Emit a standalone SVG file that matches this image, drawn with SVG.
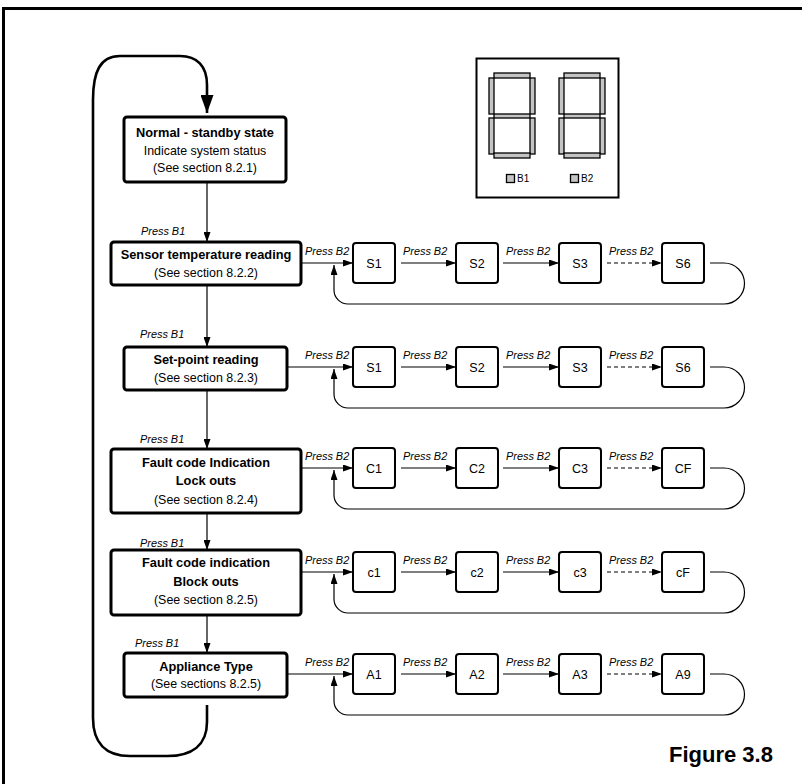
<svg xmlns="http://www.w3.org/2000/svg" width="802" height="784" viewBox="0 0 802 784">
<style>
.bg{fill:#fff}
.main{fill:#fff;stroke:#000;stroke-width:3}
.sbox{fill:#fff;stroke:#000;stroke-width:2}
.ln{fill:none;stroke:#000;stroke-width:1.2}
.dash{stroke-dasharray:4,3}
.big{fill:none;stroke:#000;stroke-width:2.6}
.seg{fill:#c4c4c4;stroke:#000;stroke-width:1.3}
.b{font-family:"Liberation Sans",Arial,sans-serif;font-weight:bold;font-size:12.8px;text-anchor:middle}
.r{font-family:"Liberation Sans",Arial,sans-serif;font-size:12.4px;text-anchor:middle}
.s{font-family:"Liberation Sans",Arial,sans-serif;font-size:12.5px;text-anchor:middle}
.p{font-family:"Liberation Sans",Arial,sans-serif;font-style:italic;font-size:10.9px}
.led{font-family:"Liberation Sans",Arial,sans-serif;font-size:10px}
.fig{font-family:"Liberation Sans",Arial,sans-serif;font-weight:bold;font-size:22px}
</style>
<defs>
<marker id="a" markerUnits="userSpaceOnUse" viewBox="0 0 10 7" refX="10" refY="3.5" markerWidth="10" markerHeight="7" orient="auto"><path d="M0,0L10,3.5L0,7z" fill="#000"/></marker>
<marker id="A" markerUnits="userSpaceOnUse" viewBox="0 0 18 13" refX="18" refY="6.5" markerWidth="18" markerHeight="13" orient="auto"><path d="M0,0L18,6.5L0,13z" fill="#000"/></marker>
</defs>
<rect class="bg" x="0" y="0" width="802" height="784"/>
<path d="M3.5,784V8.5H802" fill="none" stroke="#000" stroke-width="3"/>

<g id="display">
<rect x="476.5" y="58.5" width="142" height="139" fill="#fff" stroke="#000" stroke-width="2"/>
<g id="digit1">
<rect class="seg" x="494" y="73" width="36" height="5"/>
<rect class="seg" x="489" y="78" width="5" height="36"/>
<rect class="seg" x="530" y="78" width="5" height="36"/>
<rect class="seg" x="494" y="114" width="36" height="4"/>
<rect class="seg" x="489" y="118" width="5" height="36"/>
<rect class="seg" x="530" y="118" width="5" height="36"/>
<rect class="seg" x="494" y="153" width="36" height="5"/>
</g>
<g id="digit2">
<rect class="seg" x="564" y="73" width="36" height="5"/>
<rect class="seg" x="559" y="78" width="5" height="36"/>
<rect class="seg" x="600" y="78" width="5" height="36"/>
<rect class="seg" x="564" y="114" width="36" height="4"/>
<rect class="seg" x="559" y="118" width="5" height="36"/>
<rect class="seg" x="600" y="118" width="5" height="36"/>
<rect class="seg" x="564" y="153" width="36" height="5"/>
</g>
<rect class="seg" x="506.5" y="174.5" width="8" height="8"/>
<text class="led" x="517" y="182">B1</text>
<rect class="seg" x="570.5" y="174.5" width="8" height="8"/>
<text class="led" x="581" y="182">B2</text>
</g>

<g id="connectors">
<path class="big" d="M207,705V722C207,745 192,756 167,756H130C105,756 93,742 93,718V100C93,72 100,56 120,56H180C197,56 207,66 207,85V113" marker-end="url(#A)"/>
<path class="ln" d="M207,182V242" marker-end="url(#a)"/>
<path class="ln" d="M207,285V347" marker-end="url(#a)"/>
<path class="ln" d="M207,390V449" marker-end="url(#a)"/>
<path class="ln" d="M207,513V550" marker-end="url(#a)"/>
<path class="ln" d="M207,615V653" marker-end="url(#a)"/>
<text class="p" x="141" y="235">Press B1</text>
<text class="p" x="140" y="338">Press B1</text>
<text class="p" x="140" y="443">Press B1</text>
<text class="p" x="140" y="547">Press B1</text>
<text class="p" x="135" y="647">Press B1</text>

<path class="ln" d="M301,263H353" marker-end="url(#a)"/>
<path class="ln" d="M401,263H456" marker-end="url(#a)"/>
<path class="ln" d="M503,263H559" marker-end="url(#a)"/>
<path class="ln dash" d="M607,263H662" marker-end="url(#a)"/>
<path class="ln" d="M710,263H724A20.5,20.5 0 0 1 724,304H348A14,14 0 0 1 334,290V265" marker-end="url(#a)"/>
<text class="p" x="305" y="255">Press B2</text>
<text class="p" x="403" y="255">Press B2</text>
<text class="p" x="506" y="255">Press B2</text>
<text class="p" x="609" y="255">Press B2</text>

<path class="ln" d="M287,367H353" marker-end="url(#a)"/>
<path class="ln" d="M401,367H456" marker-end="url(#a)"/>
<path class="ln" d="M503,367H559" marker-end="url(#a)"/>
<path class="ln dash" d="M607,367H662" marker-end="url(#a)"/>
<path class="ln" d="M710,367H724A20.5,20.5 0 0 1 724,408H348A14,14 0 0 1 334,394V369" marker-end="url(#a)"/>
<text class="p" x="305" y="359">Press B2</text>
<text class="p" x="403" y="359">Press B2</text>
<text class="p" x="506" y="359">Press B2</text>
<text class="p" x="609" y="359">Press B2</text>

<path class="ln" d="M301,468H353" marker-end="url(#a)"/>
<path class="ln" d="M401,468H456" marker-end="url(#a)"/>
<path class="ln" d="M503,468H559" marker-end="url(#a)"/>
<path class="ln dash" d="M607,468H662" marker-end="url(#a)"/>
<path class="ln" d="M710,468H724A20.5,20.5 0 0 1 724,509H348A14,14 0 0 1 334,495V470" marker-end="url(#a)"/>
<text class="p" x="305" y="460">Press B2</text>
<text class="p" x="403" y="460">Press B2</text>
<text class="p" x="506" y="460">Press B2</text>
<text class="p" x="609" y="460">Press B2</text>

<path class="ln" d="M301,572H353" marker-end="url(#a)"/>
<path class="ln" d="M401,572H456" marker-end="url(#a)"/>
<path class="ln" d="M503,572H559" marker-end="url(#a)"/>
<path class="ln dash" d="M607,572H662" marker-end="url(#a)"/>
<path class="ln" d="M710,572H724A20.5,20.5 0 0 1 724,613H348A14,14 0 0 1 334,599V574" marker-end="url(#a)"/>
<text class="p" x="305" y="564">Press B2</text>
<text class="p" x="403" y="564">Press B2</text>
<text class="p" x="506" y="564">Press B2</text>
<text class="p" x="609" y="564">Press B2</text>

<path class="ln" d="M287,674H353" marker-end="url(#a)"/>
<path class="ln" d="M401,674H456" marker-end="url(#a)"/>
<path class="ln" d="M503,674H559" marker-end="url(#a)"/>
<path class="ln dash" d="M607,674H662" marker-end="url(#a)"/>
<path class="ln" d="M710,674H724A20.5,20.5 0 0 1 724,715H348A14,14 0 0 1 334,701V676" marker-end="url(#a)"/>
<text class="p" x="305" y="666">Press B2</text>
<text class="p" x="403" y="666">Press B2</text>
<text class="p" x="506" y="666">Press B2</text>
<text class="p" x="609" y="666">Press B2</text>
</g>

<g id="normal">
<rect class="main" x="124" y="117" width="162" height="65" rx="3"/>
<text class="b" x="205" y="137">Normal - standby state</text>
<text class="r" x="205" y="155">Indicate system status</text>
<text class="r" x="205" y="172">(See section 8.2.1)</text>
</g>
<g id="sensor">
<rect class="main" x="111" y="242" width="190" height="43" rx="3"/>
<text class="b" x="206" y="259">Sensor temperature reading</text>
<text class="r" x="206" y="277">(See section 8.2.2)</text>
</g>
<g id="setpoint">
<rect class="main" x="124" y="347" width="163" height="43" rx="3"/>
<text class="b" x="206" y="364">Set-point reading</text>
<text class="r" x="206" y="382">(See section 8.2.3)</text>
</g>
<g id="lockouts">
<rect class="main" x="111" y="449" width="190" height="64" rx="3"/>
<text class="b" x="206" y="467">Fault code Indication</text>
<text class="b" x="206" y="485">Lock outs</text>
<text class="r" x="206" y="504">(See section 8.2.4)</text>
</g>
<g id="blockouts">
<rect class="main" x="111" y="550" width="190" height="65" rx="3"/>
<text class="b" x="206" y="567">Fault code indication</text>
<text class="b" x="206" y="586">Block outs</text>
<text class="r" x="206" y="604">(See section 8.2.5)</text>
</g>
<g id="appliance">
<rect class="main" x="124" y="653" width="163" height="44" rx="3"/>
<text class="b" x="206" y="671">Appliance Type</text>
<text class="r" x="206" y="688">(See sections 8.2.5)</text>
</g>

<g id="S1a"><rect class="sbox" x="353" y="243" width="42" height="40" rx="3"/><text class="s" x="374" y="267.5">S1</text></g>
<g id="S2a"><rect class="sbox" x="456" y="243" width="42" height="40" rx="3"/><text class="s" x="477" y="267.5">S2</text></g>
<g id="S3a"><rect class="sbox" x="559" y="243" width="42" height="40" rx="3"/><text class="s" x="580" y="267.5">S3</text></g>
<g id="S6a"><rect class="sbox" x="662" y="243" width="42" height="40" rx="3"/><text class="s" x="683" y="267.5">S6</text></g>

<g id="S1b"><rect class="sbox" x="353" y="347" width="42" height="40" rx="3"/><text class="s" x="374" y="371.5">S1</text></g>
<g id="S2b"><rect class="sbox" x="456" y="347" width="42" height="40" rx="3"/><text class="s" x="477" y="371.5">S2</text></g>
<g id="S3b"><rect class="sbox" x="559" y="347" width="42" height="40" rx="3"/><text class="s" x="580" y="371.5">S3</text></g>
<g id="S6b"><rect class="sbox" x="662" y="347" width="42" height="40" rx="3"/><text class="s" x="683" y="371.5">S6</text></g>

<g id="C1"><rect class="sbox" x="353" y="448" width="42" height="40" rx="3"/><text class="s" x="374" y="472.5">C1</text></g>
<g id="C2"><rect class="sbox" x="456" y="448" width="42" height="40" rx="3"/><text class="s" x="477" y="472.5">C2</text></g>
<g id="C3"><rect class="sbox" x="559" y="448" width="42" height="40" rx="3"/><text class="s" x="580" y="472.5">C3</text></g>
<g id="CF"><rect class="sbox" x="662" y="448" width="42" height="40" rx="3"/><text class="s" x="683" y="472.5">CF</text></g>

<g id="c1"><rect class="sbox" x="353" y="552" width="42" height="40" rx="3"/><text class="s" x="374" y="576.5">c1</text></g>
<g id="c2"><rect class="sbox" x="456" y="552" width="42" height="40" rx="3"/><text class="s" x="477" y="576.5">c2</text></g>
<g id="c3"><rect class="sbox" x="559" y="552" width="42" height="40" rx="3"/><text class="s" x="580" y="576.5">c3</text></g>
<g id="cF"><rect class="sbox" x="662" y="552" width="42" height="40" rx="3"/><text class="s" x="683" y="576.5">cF</text></g>

<g id="A1"><rect class="sbox" x="353" y="654" width="42" height="40" rx="3"/><text class="s" x="374" y="678.5">A1</text></g>
<g id="A2"><rect class="sbox" x="456" y="654" width="42" height="40" rx="3"/><text class="s" x="477" y="678.5">A2</text></g>
<g id="A3"><rect class="sbox" x="559" y="654" width="42" height="40" rx="3"/><text class="s" x="580" y="678.5">A3</text></g>
<g id="A9"><rect class="sbox" x="662" y="654" width="42" height="40" rx="3"/><text class="s" x="683" y="678.5">A9</text></g>

<text class="fig" x="669" y="762">Figure 3.8</text>
</svg>
